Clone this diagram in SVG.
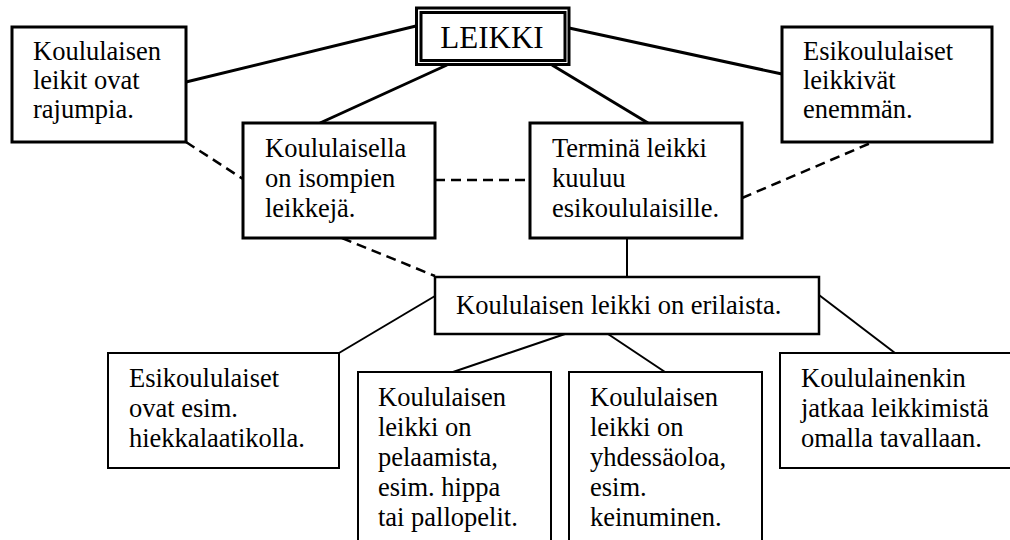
<svg xmlns="http://www.w3.org/2000/svg" width="1010" height="540" viewBox="0 0 1010 540">
  <style>
    text { font-family: "Liberation Serif", "Times New Roman", serif; font-size: 26.5px; fill: #000; }
    .title { font-size: 31px; text-anchor: middle; }
    .box { fill: #fff; stroke: #000; }
    .thick { stroke-width: 3; }
    .mid { stroke-width: 2.5; }
    .thin { stroke-width: 2; }
    .link { stroke: #000; fill: none; }
    .dash { stroke-dasharray: 10 6; stroke-width: 2.5; }
  </style>
  <rect width="1010" height="540" fill="#fff"/>

  <!-- connectors -->
  <g id="connectors" class="link">
    <line class="thick" x1="416" y1="26" x2="186" y2="82"/>
    <line class="thick" x1="569" y1="28" x2="782" y2="74"/>
    <line class="thick" x1="447" y1="65" x2="320" y2="123"/>
    <line class="thick" x1="552" y1="65" x2="648" y2="123"/>
    <line class="dash" x1="186" y1="142" x2="243" y2="179"/>
    <line class="dash" x1="435" y1="180" x2="530" y2="180"/>
    <line class="dash" x1="742" y1="198" x2="873" y2="142"/>
    <line class="dash" x1="342" y1="238" x2="435" y2="276"/>
    <line class="thin" x1="627" y1="238" x2="627" y2="277"/>
    <line class="thin" x1="435" y1="296" x2="339" y2="353"/>
    <line class="thin" x1="565" y1="334" x2="453" y2="372"/>
    <line class="thin" x1="608" y1="334" x2="665" y2="372"/>
    <line class="thin" x1="819" y1="295" x2="895" y2="353"/>
  </g>

  <!-- central node with double frame -->
  <g id="leikki">
    <rect class="box thick" x="416.5" y="8" width="152.5" height="56.5"/>
    <rect class="box thick" x="421" y="12.5" width="144" height="48"/>
    <text class="title" x="492" y="48">LEIKKI</text>
  </g>

  <g id="rajumpia">
    <rect class="box thick" x="12" y="27" width="174" height="115"/>
    <text x="33" y="60">Koululaisen</text>
    <text x="33" y="89">leikit ovat</text>
    <text x="33" y="118">rajumpia.</text>
  </g>

  <g id="enemman">
    <rect class="box thick" x="782" y="27" width="210" height="115"/>
    <text x="803" y="60">Esikoululaiset</text>
    <text x="803" y="89">leikkivät</text>
    <text x="803" y="118">enemmän.</text>
  </g>

  <g id="isompien">
    <rect class="box thick" x="243" y="123" width="192" height="115"/>
    <text x="265" y="157">Koululaisella</text>
    <text x="265" y="187">on isompien</text>
    <text x="265" y="217">leikkejä.</text>
  </g>

  <g id="termina">
    <rect class="box thick" x="530" y="123" width="212" height="115"/>
    <text x="552" y="157">Terminä leikki</text>
    <text x="552" y="187">kuuluu</text>
    <text x="552" y="217">esikoululaisille.</text>
  </g>

  <g id="erilaista">
    <rect class="box mid" x="435" y="277" width="384" height="57"/>
    <text x="456" y="314">Koululaisen leikki on erilaista.</text>
  </g>

  <g id="hiekkalaatikolla">
    <rect class="box thin" x="108" y="353" width="231" height="115"/>
    <text x="129" y="387">Esikoululaiset</text>
    <text x="129" y="417">ovat esim.</text>
    <text x="129" y="447">hiekkalaatikolla.</text>
  </g>

  <g id="pelaamista">
    <rect class="box thin" x="358" y="372" width="193" height="190"/>
    <text x="378" y="406">Koululaisen</text>
    <text x="378" y="436">leikki on</text>
    <text x="378" y="466">pelaamista,</text>
    <text x="378" y="496">esim. hippa</text>
    <text x="378" y="526">tai pallopelit.</text>
  </g>

  <g id="yhdessaoloa">
    <rect class="box thin" x="569" y="372" width="193" height="190"/>
    <text x="590" y="406">Koululaisen</text>
    <text x="590" y="436">leikki on</text>
    <text x="590" y="466">yhdessäoloa,</text>
    <text x="590" y="496">esim.</text>
    <text x="590" y="526">keinuminen.</text>
  </g>

  <g id="omalla-tavallaan">
    <rect class="box thin" x="780" y="353" width="250" height="115"/>
    <text x="801" y="387">Koululainenkin</text>
    <text x="801" y="417">jatkaa leikkimistä</text>
    <text x="801" y="447">omalla tavallaan.</text>
  </g>
</svg>
